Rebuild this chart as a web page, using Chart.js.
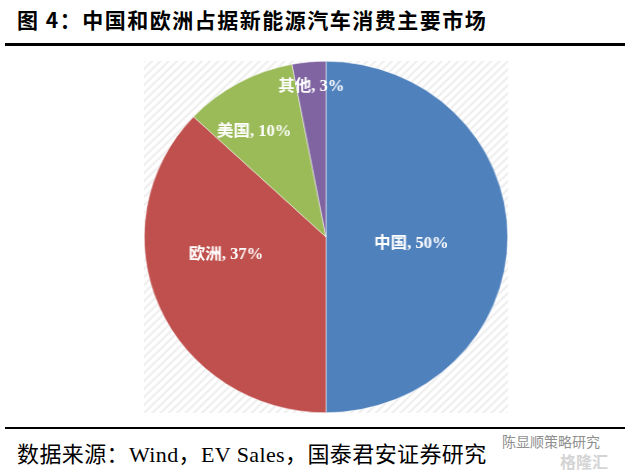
<!DOCTYPE html>
<html>
<head>
<meta charset="utf-8">
<script src="https://cdn.jsdelivr.net/npm/chart.js@4.4.0/dist/chart.umd.min.js"></script>
<style>
  html, body { margin: 0; padding: 0; background: #fff; }
  body { width: 625px; height: 470px; position: relative; overflow: hidden; }
  #title {
    position: absolute; left: 17px; top: 4px;
    font: bold 21px "Noto Sans CJK SC", sans-serif; letter-spacing: 1.5px; color: #000;
    white-space: nowrap;
  }
  #rule-top { position: absolute; left: 5px; right: 0; top: 43px; height: 3px; background: #000; }
  #rule-bottom { position: absolute; left: 5px; right: 0; top: 427px; height: 2px; background: #000; }
  #source {
    position: absolute; left: 17px; top: 436px; line-height: 30px;
    font: 22px "Liberation Serif", "Noto Sans CJK SC", serif; letter-spacing: 0.4px;
    color: #000; white-space: nowrap;
  }
  #mark {
    position: absolute; left: 502px; top: 431px;
    font: 14px "Noto Sans CJK SC", sans-serif; color: #8f8f8f; white-space: nowrap;
  }
  #logo {
    position: absolute; left: 560px; top: 449px;
    font: bold 16px "Noto Sans CJK SC", sans-serif; color: #d4d4d4; white-space: nowrap;
  }
  #wrap {
    position: absolute; left: 144px; top: 61px; width: 352px; height: 352px;
    transform: scaleX(1.034); transform-origin: 0 0;
  }
</style>
</head>
<body>
<div id="title">图 4：中国和欧洲占据新能源汽车消费主要市场</div>
<div id="rule-top"></div>
<div id="wrap"><canvas id="pie"></canvas></div>
<div id="rule-bottom"></div>
<div id="source">数据来源：Wind，EV Sales，国泰君安证券研究</div>
<div id="mark">陈显顺策略研究</div>
<div id="logo">格隆汇</div>
<script>
// 数据
const regions = ['中国', '欧洲', '美国', '其他'];
const shares = [50, 37, 10, 3];
const sliceColors = ['#4F81BD', '#C0504D', '#9BBB59', '#8064A2'];

// 斜线底纹
const stripeBackground = {
  id: 'stripeBackground',
  beforeDraw(chart) {
    const { ctx, width, height } = chart;
    const tile = document.createElement('canvas');
    tile.width = 8; tile.height = 8;
    const t = tile.getContext('2d');
    t.fillStyle = '#ffffff';
    t.fillRect(0, 0, 8, 8);
    t.strokeStyle = '#efefef';
    t.lineWidth = 2;
    t.beginPath();
    t.moveTo(-2, 10); t.lineTo(10, -2);
    t.moveTo(-2, 2); t.lineTo(2, -2);
    t.moveTo(6, 10); t.lineTo(10, 6);
    t.stroke();
    ctx.save();
    ctx.fillStyle = ctx.createPattern(tile, 'repeat');
    ctx.fillRect(0, 0, width, height);
    ctx.restore();
  }
};

// 扇区标签（按半径比例和偏移放置）
const sliceLabels = {
  id: 'sliceLabels',
  afterDatasetsDraw(chart, args, opts) {
    const { ctx } = chart;
    const meta = chart.getDatasetMeta(0);
    ctx.save();
    ctx.fillStyle = '#ffffff';
    ctx.font = 'bold 16px "Liberation Serif", "Noto Sans CJK SC", serif';
    ctx.textAlign = 'center';
    ctx.textBaseline = 'middle';
    meta.data.forEach((arc, i) => {
      const mid = (arc.startAngle + arc.endAngle) / 2;
      const r = arc.outerRadius * opts.radius[i];
      const x = arc.x + Math.cos(mid) * r + opts.dx[i];
      const y = arc.y + Math.sin(mid) * r + opts.dy[i];
      ctx.fillText(regions[i] + ', ' + shares[i] + '%', x, y);
    });
    ctx.restore();
  }
};

new Chart(document.getElementById('pie'), {
  type: 'pie',
  data: {
    labels: regions,
    datasets: [{
      data: shares,
      backgroundColor: sliceColors,
      borderColor: '#ffffff',
      borderWidth: 0.5
    }]
  },
  options: {
    responsive: true,
    maintainAspectRatio: false,
    animation: false,
    layout: { padding: 0 },
    plugins: {
      legend: { display: false },
      tooltip: { enabled: false },
      sliceLabels: {
        radius: [0.47, 0.6, 0.68, 0.86],
        dx: [0, 0, -12, 0],
        dy: [7, -24, 0, 0]
      }
    }
  },
  plugins: [stripeBackground, sliceLabels]
});
</script>
</body>
</html>
